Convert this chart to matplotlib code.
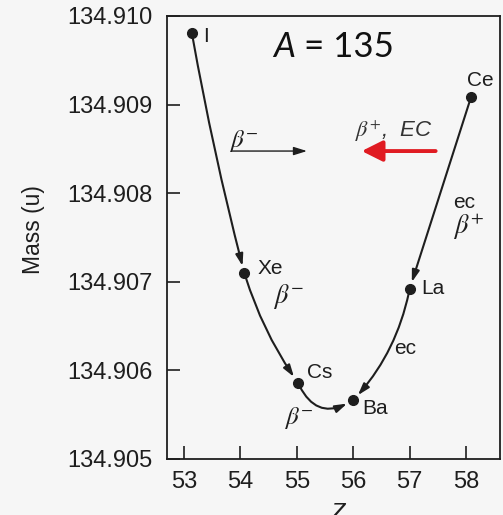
import matplotlib
matplotlib.use("Agg")
import matplotlib.pyplot as plt

plt.rcParams["font.family"] = ["Liberation Sans", "DejaVu Sans"]
plt.rcParams["mathtext.fontset"] = "stix"

# A = 135 isobars: element, Z position and atomic mass (u)
elements = ["I", "Xe", "Cs", "Ba", "La", "Ce"]
z_pos = [53.14, 54.07, 55.02, 56.0, 57.0, 58.09]
mass = [134.90981, 134.90710, 134.90586, 134.90566, 134.90692, 134.90909]

# decay chains (from, to, bend of the connecting arc)
decays = [(0, 1, 0.02), (1, 2, 0.08), (2, 3, 0.55), (5, 4, 0.0), (4, 3, -0.14)]

z_ticks = [53, 54, 55, 56, 57, 58]
mass_ticks = [134.905, 134.906, 134.907, 134.908, 134.909, 134.910]

bg = "#f6f6f6"
ink = "#1e1e1e"
fig = plt.figure(figsize=(5.03, 5.15), dpi=100, facecolor=bg)
ax = fig.add_axes([0.332, 0.109, 0.662, 0.860], facecolor=bg)

ax.set_xlim(52.70, 58.60)
ax.set_ylim(134.905, 134.910)

ax.plot(z_pos, mass, "o", color=ink, markersize=7, zorder=3)

for a, b, rad in decays:
    ax.annotate("", xy=(z_pos[b], mass[b]), xytext=(z_pos[a], mass[a]),
                arrowprops=dict(arrowstyle="-|>,head_length=0.7,head_width=0.22",
                                mutation_scale=10, color=ink, lw=1.5,
                                shrinkA=3, shrinkB=5,
                                connectionstyle=f"arc3,rad={rad}"))

# element labels
lab_fs = 15
ax.text(53.34, 134.90977, "I", fontsize=lab_fs, va="center", color=ink)
ax.text(54.31, 134.907145, "Xe", fontsize=lab_fs, va="center", color=ink)
ax.text(55.18, 134.905972, "Cs", fontsize=lab_fs, va="center", color=ink)
ax.text(56.16, 134.90557, "Ba", fontsize=lab_fs, va="center", color=ink)
ax.text(57.20, 134.906922, "La", fontsize=lab_fs, va="center", color=ink)
ax.text(58.02, 134.909268, "Ce", fontsize=lab_fs, va="center", color=ink)

# decay mode labels
ax.text(54.58, 134.906832, r"$\beta^{-}$", fontsize=19, va="center", color=ink)
ax.text(54.78, 134.90546, r"$\beta^{-}$", fontsize=18, va="center", color=ink)
ax.text(56.72, 134.906251, "ec", fontsize=lab_fs, va="center", color=ink)
ax.text(57.77, 134.907894, "ec", fontsize=lab_fs, va="center", color=ink)
ax.text(57.77, 134.907615, r"$\beta^{+}$", fontsize=19, va="center", color=ink)

# direction of decay
ax.text(53.80, 134.908587, r"$\beta^{-}$", fontsize=18, va="center", color=ink)
ax.annotate("", xy=(55.18, 134.908475), xytext=(53.86, 134.908475),
            arrowprops=dict(arrowstyle="-|>,head_length=0.8,head_width=0.25",
                            mutation_scale=10, color=ink, lw=1.0,
                            shrinkA=0, shrinkB=0))
ax.text(56.03, 134.908698, r"$\beta^{+}$,  EC", fontsize=16, style="italic",
        va="center", color="#333333")
ax.annotate("", xy=(56.15, 134.908475), xytext=(57.46, 134.908475),
            arrowprops=dict(arrowstyle="-|>,head_length=0.9,head_width=0.45",
                            mutation_scale=14, color="#e01b22", lw=2.8,
                            shrinkA=0, shrinkB=0))

t = ax.text(0.318, 0.907, "A", transform=ax.transAxes, fontsize=25,
            family="Lato", style="italic", va="baseline", color="#111111")
ax.annotate("= 135", xy=(1, 0), xycoords=t, xytext=(7, 0),
            textcoords="offset points", fontsize=25, family="Lato",
            va="bottom", color="#111111")

ax.set_xticks(z_ticks)
ax.set_yticks(mass_ticks)
ax.set_yticklabels([f"{m:.3f}" for m in mass_ticks])
ax.tick_params(direction="in", length=9.5, width=1.2, labelsize=17,
               labelcolor=ink, color=ink, top=False, right=False)
ax.tick_params(axis="y", pad=10.5)
ax.tick_params(axis="x", pad=9)
for s in ax.spines.values():
    s.set_linewidth(1.3)
    s.set_color(ink)

ax.set_ylabel("Mass (u)", fontsize=16.5, color=ink)
ax.yaxis.set_label_coords(-0.366, 0.517)
ax.set_xlabel("Z", fontsize=17, style="italic", color=ink)
ax.xaxis.set_label_coords(0.513, -0.098)

fig.savefig("out.png", dpi=100, facecolor=bg)
